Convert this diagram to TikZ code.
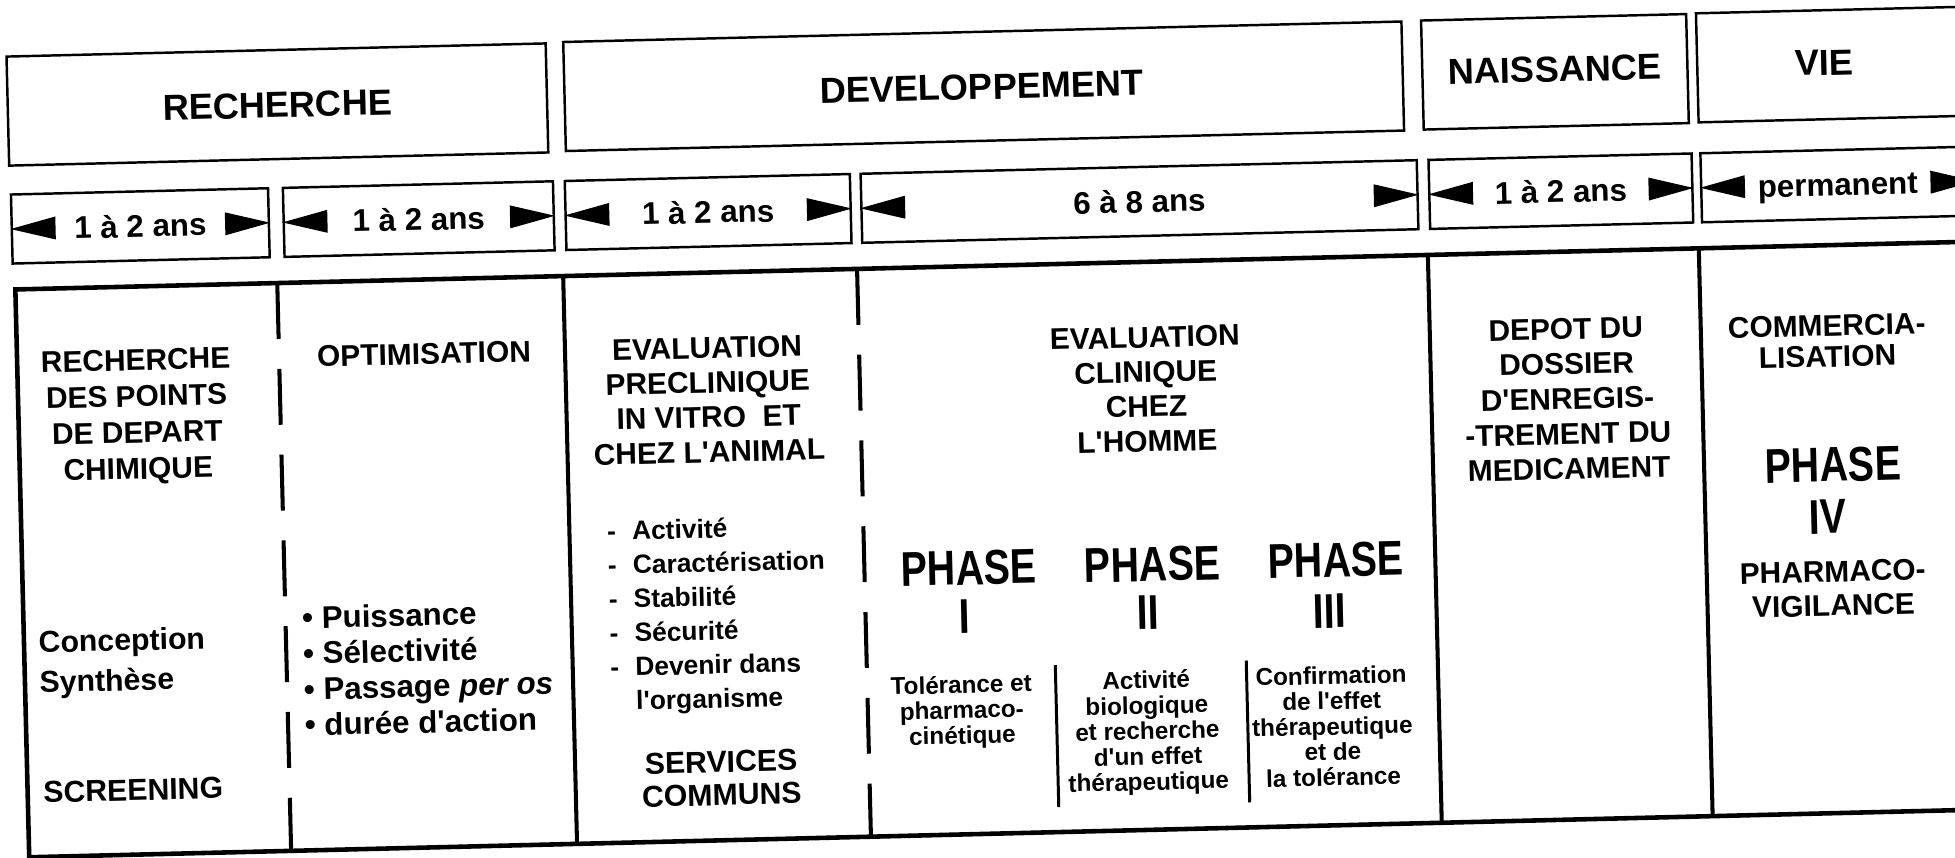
\documentclass[tikz,border=0pt]{standalone}
\usepackage{fontspec}
\setmainfont{Liberation Sans}
\usepackage{graphicx}
\newcommand\ltri[1]{\fill (#1.west) -- ++(45,-11.5) -- ++(0,23) -- cycle;}
\newcommand\rtri[1]{\fill (#1.east) -- ++(-45,-11.5) -- ++(0,23) -- cycle;}
\newcommand\tall[1]{\scalebox{1}[1.24]{#1}}
\newcommand\ap{\textquotesingle}
\begin{document}
\begin{tikzpicture}[x=0.01cm, y=-0.01cm,
  every node/.style={transform shape, inner sep=0pt},
  hbox/.style={draw, line width=0.7pt, minimum height=1.09cm},
  dbox/.style={draw, line width=0.7pt, minimum height=0.69cm,
    font=\fontsize{8.9}{10}\selectfont\bfseries, text height=6.37pt, text depth=0pt},
  htxt/.style={font=\fontsize{10.3}{12}\selectfont\bfseries, text height=7.37pt, text depth=0pt},
  chd/.style={font=\fontsize{8.5}{10}\selectfont\bfseries, text height=6.09pt, text depth=0pt},
  ctx/.style={font=\fontsize{8.6}{10}\selectfont\bfseries, text height=6.16pt, text depth=0pt},
  bul/.style={font=\fontsize{8.9}{10}\selectfont\bfseries, text height=6.37pt, text depth=0pt},
  lst/.style={font=\fontsize{7.5}{9}\selectfont\bfseries, text height=5.37pt, text depth=0pt},
  sub/.style={font=\fontsize{6.9}{8}\selectfont\bfseries, text height=4.94pt, text depth=0pt},
  ph/.style={font=\fontsize{11.2}{13}\selectfont\bfseries, text height=9.94pt, text depth=0pt},
  tbl/.style={line width=1.3pt},
  vsol/.style={line width=1.15pt},
  vdash/.style={line width=1.15pt, dash pattern=on 15.9pt off 8.5pt},
  sepl/.style={line width=0.85pt}]
\fill[white] (0,0) rectangle (1955,858);
\useasboundingbox (0,0) rectangle (1955,858);
\clip (0,0) rectangle (1955,858);
\begin{scope}[rotate around={1.4:(978,429)}]
% ---------- row 1 : stages ----------
\node[hbox, minimum width=5.39cm] (h1) at (285.5,87.5) {};
\node[hbox, minimum width=8.38cm] (h2) at (992,86.5) {};
\node[hbox, minimum width=2.65cm] (h3) at (1563.5,86) {};
\node[hbox, minimum width=3.04cm] (h4) at (1858,85.5) {};
\node[htxt] (t1) at (285.5,87.5) {RECHERCHE};
\node[htxt] (t2) at (990,86.5) {DEVELOPPEMENT};
\node[htxt] (t3) at (1563.5,83) {NAISSANCE};
\node[htxt] (t4) at (1833,83) {VIE};
% ---------- row 2 : durations ----------
\node[dbox, minimum width=2.57cm] (d1) at (145.5,205.5) {1 à 2 ans};
\node[dbox, minimum width=2.70cm] (d2) at (424,205.5) {1 à 2 ans};
\node[dbox, minimum width=2.85cm] (d3) at (713.5,205.5) {1 à 2 ans};
\node[dbox, minimum width=5.56cm] (d4) at (1145,205.5) {6 à 8 ans};
\node[dbox, minimum width=2.63cm] (d5) at (1566.5,205.5) {1 à 2 ans};
\node[dbox, minimum width=2.73cm] (d6) at (1843.5,205.5) {permanent};
\foreach \b in {d1,d2,d3,d4,d5,d6} {\ltri{\b}\rtri{\b}}
% ---------- table ----------
\coordinate (tl) at (19,266);
\coordinate (bl) at (19,834);
\coordinate (tr) at (2010,266);
\coordinate (br) at (2010,834);
\draw[tbl] (tr) -- (tl) -- (bl) -- (br);
\foreach \x in {567,1432,1703} \draw[vsol] (\x,266) -- (\x,834);
\foreach \x in {281,861} \draw[vdash] (\x,266) -- (\x,834);
% column 1
\foreach \t [count=\i] in {RECHERCHE, DES POINTS, DE DEPART, CHIMIQUE}
  \node[chd] (ra\i) at (137.5,{339+36.3*(\i-1)}) {\t};
\node[ctx, anchor=west] (conc) at (33,619) {Conception};
\node[ctx, anchor=west] (synt) at (33,659) {Synthèse};
\node[ctx, anchor=west] (scr) at (34,769) {SCREENING};
% column 2
\node[chd] (opt) at (426,340) {OPTIMISATION};
\foreach \t [count=\i] in {Puissance, Sélectivité, {Passage \textit{per os}}, {durée d\ap action}}
  \node[bul, anchor=west] (bu\i) at (297,{601+35.7*(\i-1)}) {\textbullet\ \t};
% column 3
\foreach \t [count=\i] in {EVALUATION, PRECLINIQUE, {IN VITRO\ \ ET}, {CHEZ L\ap ANIMAL}}
  \node[chd] (pc\i) at (709,{341+34.7*(\i-1)}) {\t};
\foreach \t [count=\i] in {Activité, Caractérisation, Stabilité, Sécurité, Devenir dans}
  \node[lst, anchor=west] (li\i) at (604,{522+34*(\i-1)}) {\makebox[7.1pt][l]{-}\t};
\node[lst, anchor=west] (li6) at (604,692) {\hspace*{7.1pt}l\ap organisme};
\node[ctx] (serv) at (713,755) {SERVICES};
\node[ctx] (comm) at (713,788) {COMMUNS};
% column 4
\foreach \t [count=\i] in {EVALUATION, CLINIQUE, CHEZ, {L\ap HOMME}}
  \node[chd] (cl\i) at (1147,{341+34.7*(\i-1)}) {\t};
\node[ph] (p1) at (965.5,567) {\tall{PHASE}};
\node[ph] (p2) at (1149,568) {\tall{PHASE}};
\node[ph] (p3) at (1332.5,568) {\tall{PHASE}};
\node[ph] (n1) at (959.5,616) {\tall{I}};
\node[ph] (n2) at (1143.5,616) {\tall{II}};
\node[ph] (n3) at (1325,619) {\tall{III}};
\foreach \t [count=\i] in {Tolérance et, pharmaco-, cinétique}
  \node[sub] (sa\i) at (955,{684+25.4*(\i-1)}) {\t};
\foreach \t [count=\i] in {Activité, biologique, et recherche, {d\ap un effet}, thérapeutique}
  \node[sub] (sb\i) at (1140,{684+25.4*(\i-1)}) {\t};
\foreach \t [count=\i] in {Confirmation, {de l\ap effet}, thérapeutique, et de, la tolérance}
  \node[sub] (sc\i) at (1325,{684+25.4*(\i-1)}) {\t};
\draw[sepl] (1049.5,667) -- (1049.5,809);
\draw[sepl] (1240.5,667) -- (1240.5,809);
% column 5
\foreach \t [count=\i] in {DEPOT DU, DOSSIER, {D\ap ENREGIS-}, -TREMENT DU, MEDICAMENT}
  \node[chd] (dp\i) at (1568,{343+35*(\i-1)}) {\t};
% column 6
\node[chd] (cm1) at (1829,346) {COMMERCIA-};
\node[chd] (cm2) at (1829,377) {LISATION};
\node[ph] (p4) at (1832,485) {\tall{PHASE}};
\node[ph] (n4) at (1825,537) {\tall{IV}};
\node[chd] (pv1) at (1829,592) {PHARMACO-};
\node[chd] (pv2) at (1829,626) {VIGILANCE};
\end{scope}
\end{tikzpicture}
\end{document}
